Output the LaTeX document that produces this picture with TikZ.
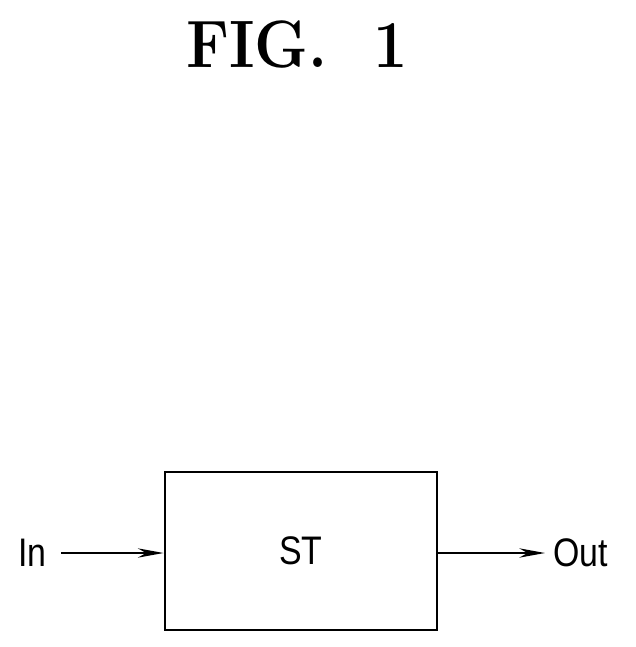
\documentclass[tikz,border=0pt]{standalone}
\usepackage{fontspec}
\setsansfont{Liberation Sans}
\usetikzlibrary{arrows.meta,calc}
\begin{document}
\begin{tikzpicture}[x=0.03cm,y=-0.03cm,
  lbl/.style={font=\sffamily\fontsize{34}{34}\selectfont,inner sep=0pt,xscale=0.85},
  arr/.style={line width=1.2pt,-{Stealth[length=22pt,width=8pt]}}]
\useasboundingbox (0,0) rectangle (635,647);
\node[font=\bfseries\fontsize{52}{52}\selectfont,yscale=1.1] (t) at (297,45) {FIG.\ \ 1};
\node[draw,line width=2.5pt,minimum width=272*0.03cm,minimum height=158*0.03cm,inner sep=0pt] (st) at (301,551) {};
\node[lbl] at (st.center) {ST};
\node[lbl,anchor=east] (in) at (47,553) {In};
\node[lbl,anchor=west] (out) at (553,553) {Out};
\coordinate (a) at ($(in.east)+(14,0)$);
\coordinate (b) at ($(out.west)+(-8,0)$);
\draw[arr] (a) -- (st.west|-a);
\draw[arr] (st.east|-b) -- (b);
\end{tikzpicture}
\end{document}
